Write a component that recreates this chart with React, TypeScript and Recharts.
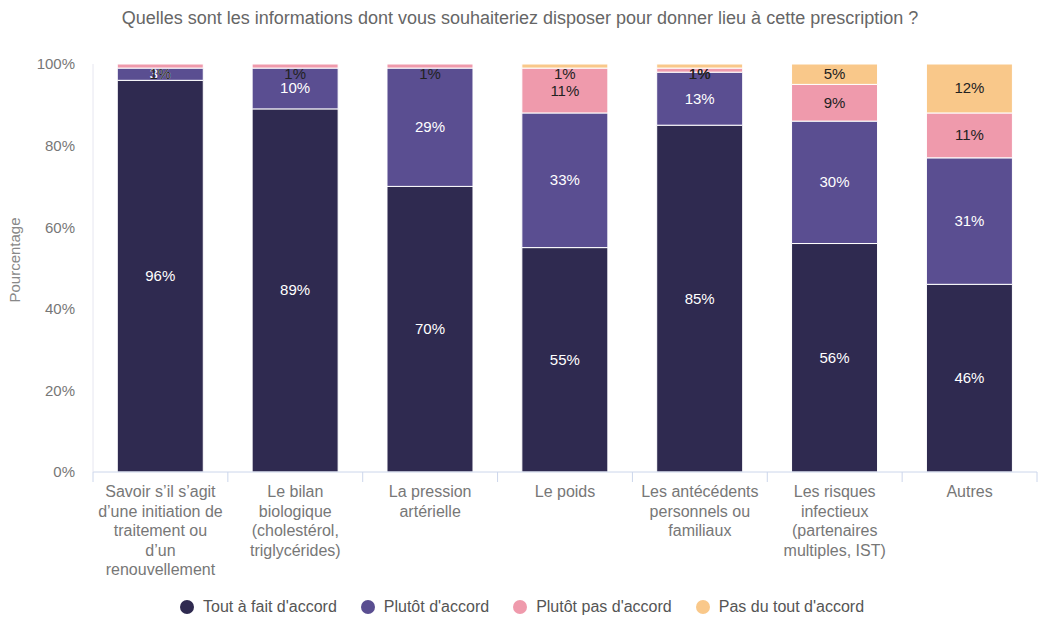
import React from 'react';
import { BarChart, Bar, XAxis, YAxis, LabelList } from 'recharts';

const categories = [
  'Savoir s’il s’agit d’une initiation de traitement ou d’un renouvellement',
  'Le bilan biologique (cholestérol, triglycérides)',
  'La pression artérielle',
  'Le poids',
  'Les antécédents personnels ou familiaux',
  'Les risques infectieux (partenaires multiples, IST)',
  'Autres',
];

// tick labels, wrapped as in the original
const tickLines = [
  ['Savoir s’il s’agit', 'd’une initiation de', 'traitement ou', 'd’un', 'renouvellement'],
  ['Le bilan', 'biologique', '(cholestérol,', 'triglycérides)'],
  ['La pression', 'artérielle'],
  ['Le poids'],
  ['Les antécédents', 'personnels ou', 'familiaux'],
  ['Les risques', 'infectieux', '(partenaires', 'multiples, IST)'],
  ['Autres'],
];

const toutAFait = [96, 89, 70, 55, 85, 56, 46];
const plutot = [3, 10, 29, 33, 13, 30, 31];
const plutotPas = [1, 1, 1, 11, 1, 9, 11];
const pasDuTout = [0, 0, 0, 1, 1, 5, 12];

const yTicks = [0, 20, 40, 60, 80, 100];

const series = [
  { key: 'toutAFait', name: "Tout à fait d'accord", color: '#2f2a50', text: '#ffffff' },
  { key: 'plutot', name: "Plutôt d'accord", color: '#5a4e91', text: '#ffffff' },
  { key: 'plutotPas', name: "Plutôt pas d'accord", color: '#ef9aac', text: '#222222' },
  { key: 'pasDuTout', name: "Pas du tout d'accord", color: '#f9c88a', text: '#222222' },
];

const data = categories.map((c, i) => ({
  category: c,
  toutAFait: toutAFait[i],
  plutot: plutot[i],
  plutotPas: plutotPas[i],
  pasDuTout: pasDuTout[i],
}));

const FONT = '"Liberation Sans", Arial, sans-serif';
const PLOT_TOP = 64;
const HALF_BAND = (1037 - 93) / 7 / 2;

function CategoryTick(props: any) {
  const { x, y, payload, index } = props;
  const lines = tickLines[index] || [payload.value];
  return (
    <g>
      <line x1={x - HALF_BAND} x2={x - HALF_BAND} y1={y - 8} y2={y + 2} stroke="#ccd6eb" />
      {index === categories.length - 1 && (
        <line x1={x + HALF_BAND} x2={x + HALF_BAND} y1={y - 8} y2={y + 2} stroke="#ccd6eb" />
      )}
      <text x={x} y={y + 17} textAnchor="middle" fill="#777" fontSize={16} fontFamily={FONT}>
        {lines.map((l: string, i: number) => (
          <tspan key={i} x={x} dy={i === 0 ? 0 : 19.5}>{l}</tspan>
        ))}
      </text>
    </g>
  );
}

function makeLabel(color: string) {
  return (props: any) => {
    const { x, y, width, height, value } = props;
    if (!value) return null;
    let cy = y + height / 2;
    if (cy < PLOT_TOP + 10) cy = PLOT_TOP + 10;
    return (
      <text x={x + width / 2} y={cy} dy={5} textAnchor="middle" fill={color} fontSize={15} fontFamily={FONT}>
        {value}%
      </text>
    );
  };
}

export default function App() {
  return (
    <div style={{ position: 'relative', width: 1051, height: 618, fontFamily: FONT, background: '#fff' }}>
      <style>{'body{margin:0}'}</style>
      <div style={{ position: 'absolute', top: 8, left: 0, width: 1040, textAlign: 'center', fontSize: 18, color: '#666' }}>
        Quelles sont les informations dont vous souhaiteriez disposer pour donner lieu à cette prescription ?
      </div>
      <BarChart
        width={1051}
        height={618}
        data={data}
        margin={{ top: 64, right: 14, bottom: 0, left: 0 }}
        barCategoryGap="18%"
      >
        <XAxis
          dataKey="category"
          interval={0}
          tick={<CategoryTick />}
          tickLine={false}
          axisLine={{ stroke: '#ccd6eb' }}
          height={146}
        />
        <YAxis
          width={93}
          domain={[0, 100]}
          ticks={yTicks}
          tickFormatter={(v: number) => `${v}%`}
          tick={{ fill: '#777', fontSize: 15, fontFamily: FONT }}
          tickLine={false}
          axisLine={{ stroke: '#e6e6f0' }}
          tickMargin={12}
          label={{
            value: 'Pourcentage',
            angle: -90,
            position: 'insideLeft',
            dx: 10,
            dy: -8,
            style: { fill: '#888', fontSize: 15, fontFamily: FONT, textAnchor: 'middle' },
          }}
        />
        {series.map((s) => (
          <Bar key={s.key} dataKey={s.key} name={s.name} stackId="a" fill={s.color} stroke="#fff" strokeWidth={1} isAnimationActive={false}>
            <LabelList dataKey={s.key} content={makeLabel(s.text)} />
          </Bar>
        ))}
      </BarChart>
      <div style={{ position: 'absolute', top: 598, left: 180, display: 'flex', fontSize: 16, color: '#555' }}>
        {series.map((s) => (
          <div key={s.key} style={{ display: 'flex', alignItems: 'center', marginRight: 24 }}>
            <span style={{ width: 14, height: 14, borderRadius: 7, background: s.color, display: 'inline-block', marginRight: 9 }} />
            <span>{s.name}</span>
          </div>
        ))}
      </div>
    </div>
  );
}
